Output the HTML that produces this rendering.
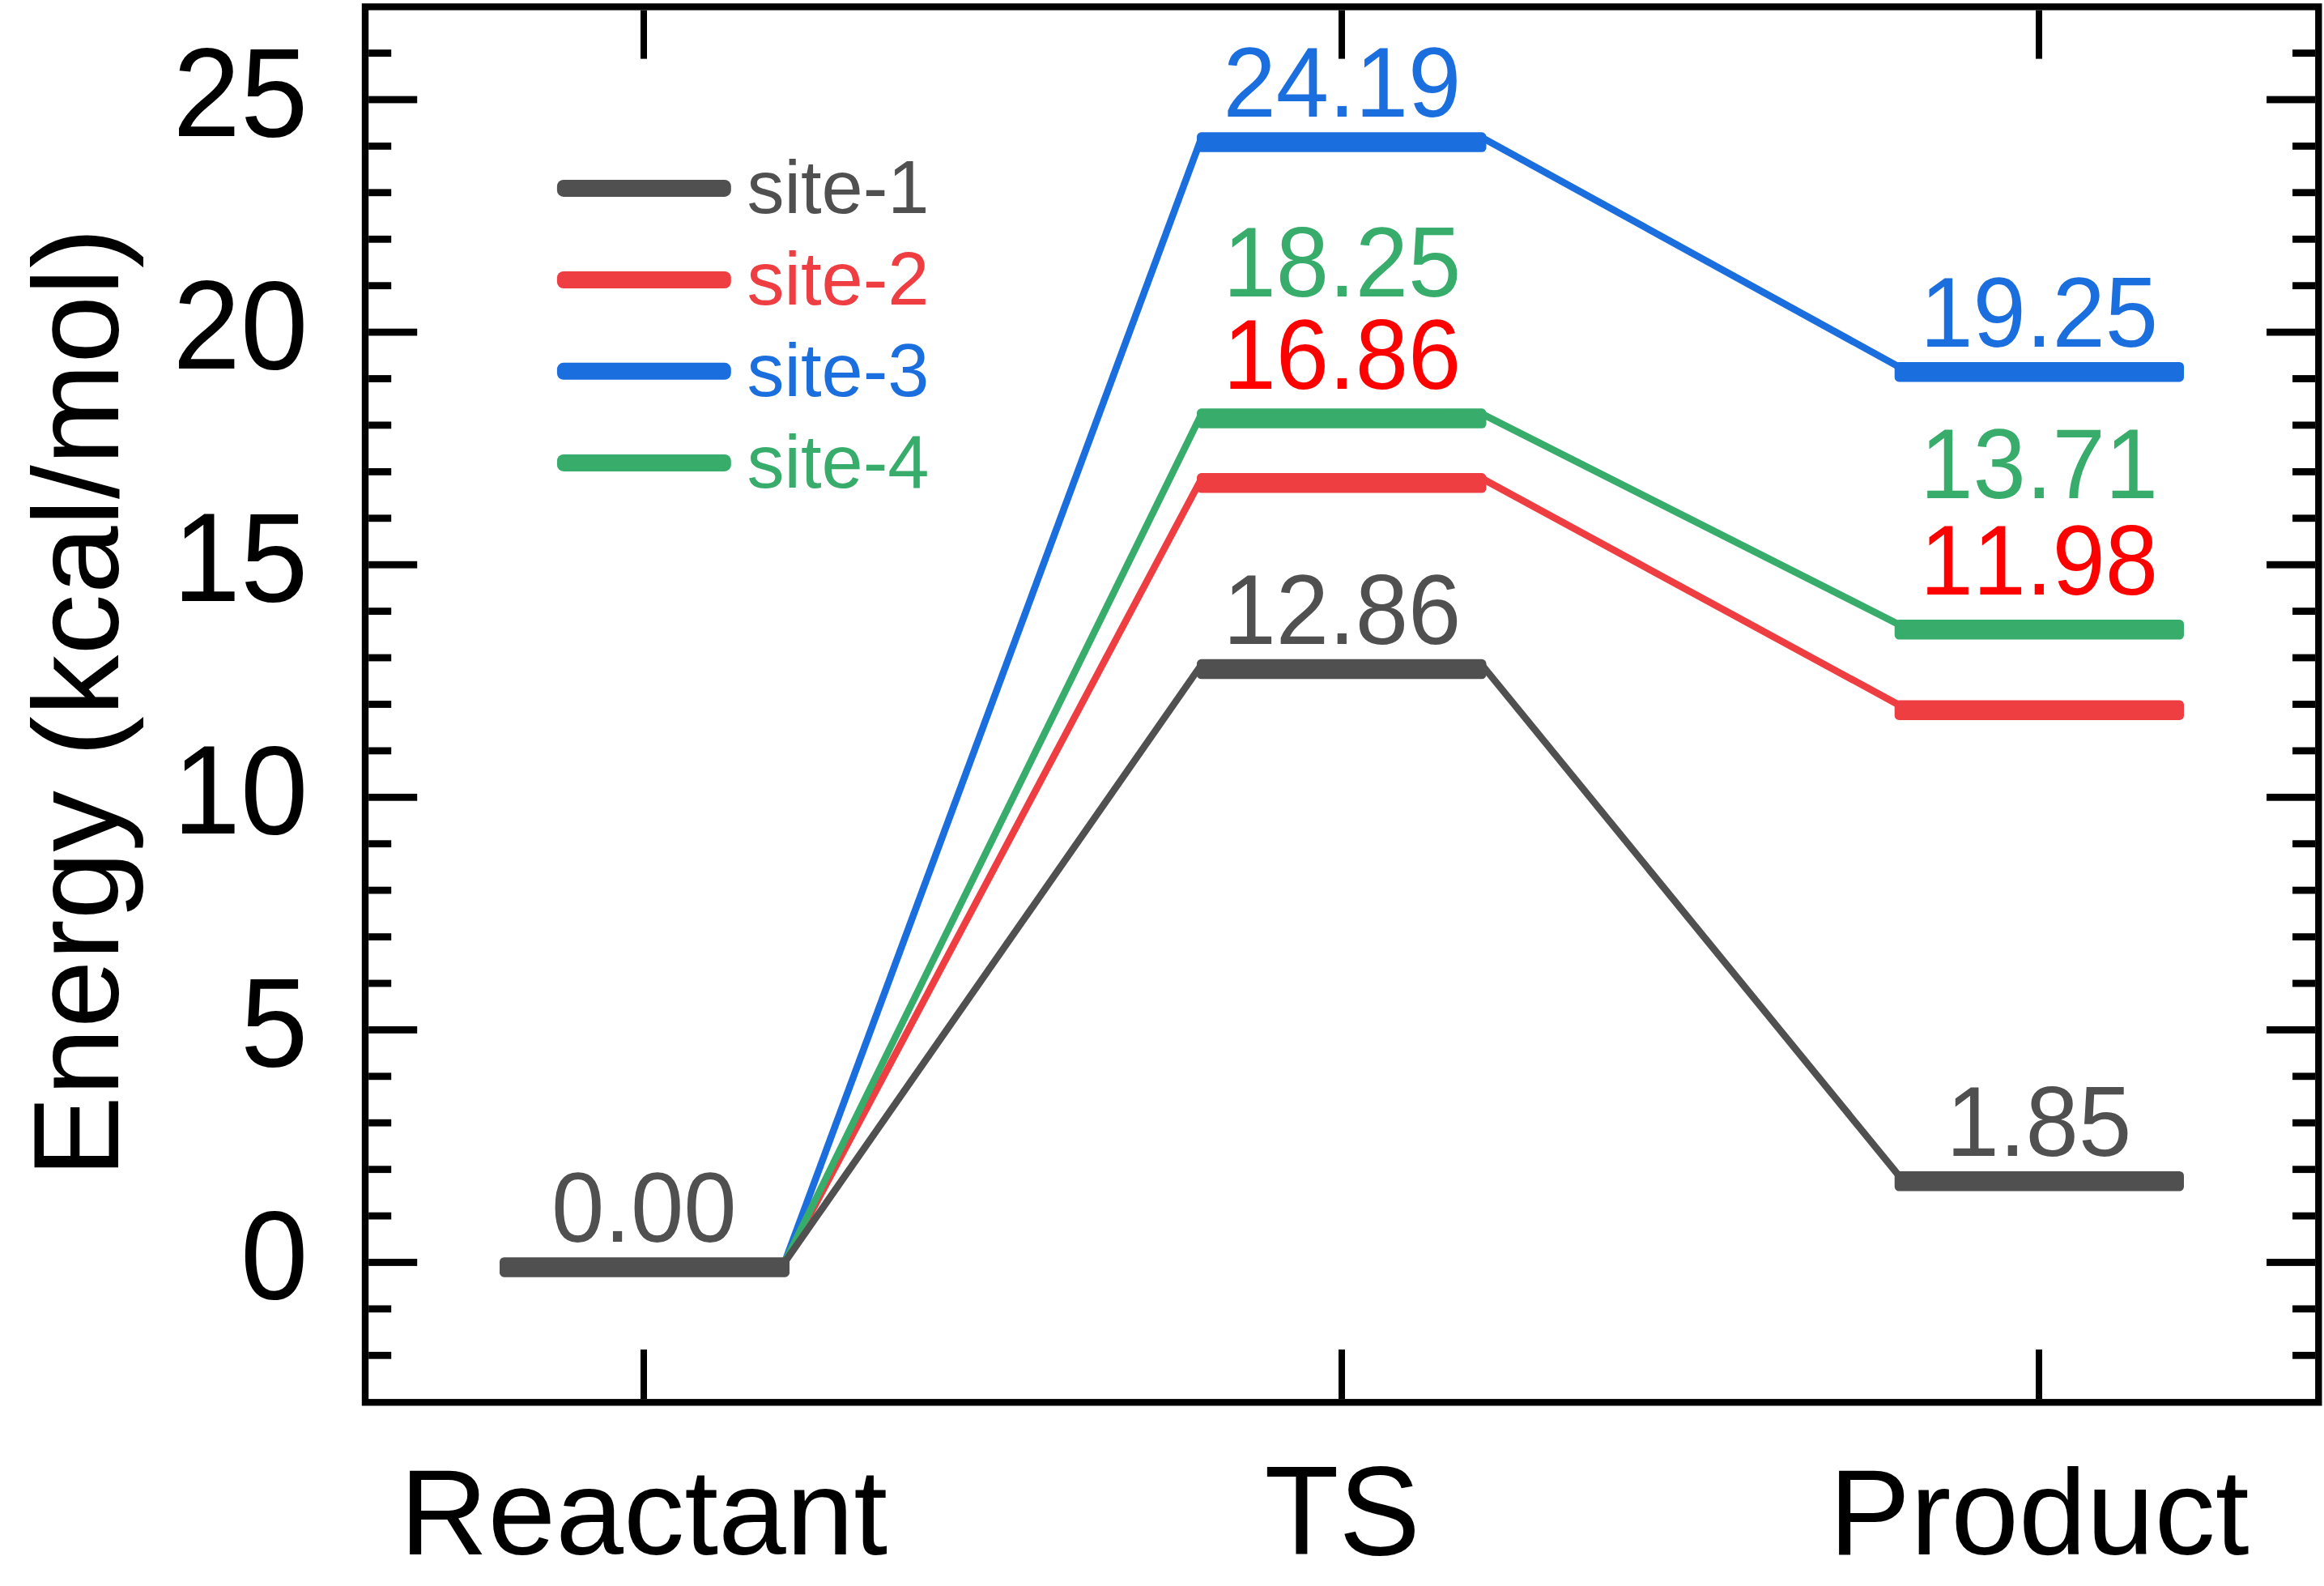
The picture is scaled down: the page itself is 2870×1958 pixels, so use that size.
<!DOCTYPE html>
<html><head><meta charset="utf-8"><title>Energy profile</title>
<style>
html,body{margin:0;padding:0;background:#fff;}
body{width:2870px;height:1958px;overflow:hidden;}
svg{display:block;font-family:'Liberation Sans', Arial, sans-serif;font-kerning:none;}
</style></head>
<body>
<svg width="2870" height="1958" viewBox="0 0 2870 1958">
<rect width="2870" height="1958" fill="#fff"/>
<rect x="455.2" y="1668.9" width="28" height="8.8" fill="#000"/>
<rect x="2831.1" y="1668.9" width="28" height="8.8" fill="#000"/>
<rect x="455.2" y="1611.5" width="28" height="8.8" fill="#000"/>
<rect x="2831.1" y="1611.5" width="28" height="8.8" fill="#000"/>
<rect x="455.2" y="1554.1" width="60" height="8.8" fill="#000"/>
<rect x="2799.1" y="1554.1" width="60" height="8.8" fill="#000"/>
<rect x="455.2" y="1496.7" width="28" height="8.8" fill="#000"/>
<rect x="2831.1" y="1496.7" width="28" height="8.8" fill="#000"/>
<rect x="455.2" y="1439.3" width="28" height="8.8" fill="#000"/>
<rect x="2831.1" y="1439.3" width="28" height="8.8" fill="#000"/>
<rect x="455.2" y="1381.8" width="28" height="8.8" fill="#000"/>
<rect x="2831.1" y="1381.8" width="28" height="8.8" fill="#000"/>
<rect x="455.2" y="1324.4" width="28" height="8.8" fill="#000"/>
<rect x="2831.1" y="1324.4" width="28" height="8.8" fill="#000"/>
<rect x="455.2" y="1267.0" width="60" height="8.8" fill="#000"/>
<rect x="2799.1" y="1267.0" width="60" height="8.8" fill="#000"/>
<rect x="455.2" y="1209.6" width="28" height="8.8" fill="#000"/>
<rect x="2831.1" y="1209.6" width="28" height="8.8" fill="#000"/>
<rect x="455.2" y="1152.2" width="28" height="8.8" fill="#000"/>
<rect x="2831.1" y="1152.2" width="28" height="8.8" fill="#000"/>
<rect x="455.2" y="1094.7" width="28" height="8.8" fill="#000"/>
<rect x="2831.1" y="1094.7" width="28" height="8.8" fill="#000"/>
<rect x="455.2" y="1037.3" width="28" height="8.8" fill="#000"/>
<rect x="2831.1" y="1037.3" width="28" height="8.8" fill="#000"/>
<rect x="455.2" y="979.9" width="60" height="8.8" fill="#000"/>
<rect x="2799.1" y="979.9" width="60" height="8.8" fill="#000"/>
<rect x="455.2" y="922.5" width="28" height="8.8" fill="#000"/>
<rect x="2831.1" y="922.5" width="28" height="8.8" fill="#000"/>
<rect x="455.2" y="865.1" width="28" height="8.8" fill="#000"/>
<rect x="2831.1" y="865.1" width="28" height="8.8" fill="#000"/>
<rect x="455.2" y="807.6" width="28" height="8.8" fill="#000"/>
<rect x="2831.1" y="807.6" width="28" height="8.8" fill="#000"/>
<rect x="455.2" y="750.2" width="28" height="8.8" fill="#000"/>
<rect x="2831.1" y="750.2" width="28" height="8.8" fill="#000"/>
<rect x="455.2" y="692.8" width="60" height="8.8" fill="#000"/>
<rect x="2799.1" y="692.8" width="60" height="8.8" fill="#000"/>
<rect x="455.2" y="635.4" width="28" height="8.8" fill="#000"/>
<rect x="2831.1" y="635.4" width="28" height="8.8" fill="#000"/>
<rect x="455.2" y="578.0" width="28" height="8.8" fill="#000"/>
<rect x="2831.1" y="578.0" width="28" height="8.8" fill="#000"/>
<rect x="455.2" y="520.5" width="28" height="8.8" fill="#000"/>
<rect x="2831.1" y="520.5" width="28" height="8.8" fill="#000"/>
<rect x="455.2" y="463.1" width="28" height="8.8" fill="#000"/>
<rect x="2831.1" y="463.1" width="28" height="8.8" fill="#000"/>
<rect x="455.2" y="405.7" width="60" height="8.8" fill="#000"/>
<rect x="2799.1" y="405.7" width="60" height="8.8" fill="#000"/>
<rect x="455.2" y="348.3" width="28" height="8.8" fill="#000"/>
<rect x="2831.1" y="348.3" width="28" height="8.8" fill="#000"/>
<rect x="455.2" y="290.9" width="28" height="8.8" fill="#000"/>
<rect x="2831.1" y="290.9" width="28" height="8.8" fill="#000"/>
<rect x="455.2" y="233.4" width="28" height="8.8" fill="#000"/>
<rect x="2831.1" y="233.4" width="28" height="8.8" fill="#000"/>
<rect x="455.2" y="176.0" width="28" height="8.8" fill="#000"/>
<rect x="2831.1" y="176.0" width="28" height="8.8" fill="#000"/>
<rect x="455.2" y="118.6" width="60" height="8.8" fill="#000"/>
<rect x="2799.1" y="118.6" width="60" height="8.8" fill="#000"/>
<rect x="455.2" y="61.2" width="28" height="8.8" fill="#000"/>
<rect x="2831.1" y="61.2" width="28" height="8.8" fill="#000"/>
<rect x="791.0" y="12.6" width="8" height="60" fill="#000"/>
<rect x="791.0" y="1666.1" width="8" height="61" fill="#000"/>
<rect x="1653.0" y="12.6" width="8" height="60" fill="#000"/>
<rect x="1653.0" y="1666.1" width="8" height="61" fill="#000"/>
<rect x="2514.0" y="12.6" width="8" height="60" fill="#000"/>
<rect x="2514.0" y="1666.1" width="8" height="61" fill="#000"/>
<rect x="451.0" y="8.4" width="2412.3" height="1722.9" fill="none" stroke="#000" stroke-width="8.4"/>
<g transform="translate(380.4,1603.0) scale(1,1.041)"><text x="0" y="0" font-size="150" fill="#000" text-anchor="end">0</text></g>
<g transform="translate(380.4,1315.9) scale(1,1.041)"><text x="0" y="0" font-size="150" fill="#000" text-anchor="end">5</text></g>
<g transform="translate(380.4,1028.8) scale(1,1.041)"><text x="0" y="0" font-size="150" fill="#000" text-anchor="end">10</text></g>
<g transform="translate(380.4,741.7) scale(1,1.041)"><text x="0" y="0" font-size="150" fill="#000" text-anchor="end">15</text></g>
<g transform="translate(380.4,454.6) scale(1,1.041)"><text x="0" y="0" font-size="150" fill="#000" text-anchor="end">20</text></g>
<g transform="translate(380.4,167.5) scale(1,1.041)"><text x="0" y="0" font-size="150" fill="#000" text-anchor="end">25</text></g>
<g transform="translate(145.8,1453.5) rotate(-90) scale(1,1.0)"><text x="0" y="0" font-size="150.7" fill="#000" text-anchor="start">Energy (kcal/mol)</text></g>
<g transform="translate(493.8,1919.3) scale(1,1.0)"><text x="0" y="0" font-size="150.5" fill="#000" text-anchor="start">Reactant</text></g>
<g transform="translate(1561.5,1919.3) scale(1,1.041)"><text x="0" y="0" font-size="150.5" fill="#000" text-anchor="start">TS</text></g>
<g transform="translate(2258.8,1919.3) scale(1,1.0)"><text x="0" y="0" font-size="150.5" fill="#000" text-anchor="start">Product</text></g>
<line x1="969.0" y1="1558.5" x2="1484.0" y2="590.4" stroke="#EE3E42" stroke-width="8.6"/>
<line x1="1829.5" y1="590.4" x2="2345.7" y2="870.6" stroke="#EE3E42" stroke-width="8.6"/>
<line x1="969.0" y1="1558.5" x2="1484.0" y2="169.5" stroke="#1B6EDE" stroke-width="8.6"/>
<line x1="1829.5" y1="169.5" x2="2345.7" y2="453.2" stroke="#1B6EDE" stroke-width="8.6"/>
<line x1="969.0" y1="1558.5" x2="1484.0" y2="510.6" stroke="#37AC6B" stroke-width="8.6"/>
<line x1="1829.5" y1="510.6" x2="2345.7" y2="771.3" stroke="#37AC6B" stroke-width="8.6"/>
<line x1="969.0" y1="1558.5" x2="1484.0" y2="820.1" stroke="#505050" stroke-width="8.6"/>
<line x1="1829.5" y1="820.1" x2="2345.7" y2="1452.3" stroke="#505050" stroke-width="8.6"/>
<rect x="1478.0" y="584.1" width="357.5" height="24.5" rx="5.5" fill="#EE3E42"/>
<rect x="2339.7" y="864.4" width="357.3" height="24.5" rx="5.5" fill="#EE3E42"/>
<rect x="1478.0" y="163.3" width="357.5" height="24.5" rx="5.5" fill="#1B6EDE"/>
<rect x="2339.7" y="446.9" width="357.3" height="24.5" rx="5.5" fill="#1B6EDE"/>
<rect x="1478.0" y="504.3" width="357.5" height="24.5" rx="5.5" fill="#37AC6B"/>
<rect x="2339.7" y="765.0" width="357.3" height="24.5" rx="5.5" fill="#37AC6B"/>
<rect x="617.0" y="1552.2" width="358.0" height="24.5" rx="5.5" fill="#505050"/>
<rect x="1478.0" y="813.8" width="357.5" height="24.5" rx="5.5" fill="#505050"/>
<rect x="2339.7" y="1446.0" width="357.3" height="24.5" rx="5.5" fill="#505050"/>
<g transform="translate(681.0,1532.5) scale(1,1.041)"><text x="0" y="0" font-size="117.5" fill="#505050" text-anchor="start">0.00</text></g>
<g transform="translate(1510.4,143.6) scale(1,1.041)"><text x="0" y="0" font-size="117.5" fill="#1B6EDE" text-anchor="start">24.19</text></g>
<g transform="translate(1510.4,365.8) scale(1,1.041)"><text x="0" y="0" font-size="117.5" fill="#37AC6B" text-anchor="start">18.25</text></g>
<g transform="translate(1510.4,479.6) scale(1,1.041)"><text x="0" y="0" font-size="117.5" fill="#FF0000" text-anchor="start">16.86</text></g>
<g transform="translate(1510.4,795.0) scale(1,1.041)"><text x="0" y="0" font-size="117.5" fill="#505050" text-anchor="start">12.86</text></g>
<g transform="translate(2371.2,428.1) scale(1,1.041)"><text x="0" y="0" font-size="117.5" fill="#1B6EDE" text-anchor="start">19.25</text></g>
<g transform="translate(2371.2,615.1) scale(1,1.041)"><text x="0" y="0" font-size="117.5" fill="#37AC6B" text-anchor="start">13.71</text></g>
<g transform="translate(2371.2,734.3) scale(1,1.041)"><text x="0" y="0" font-size="117.5" fill="#FF0000" text-anchor="start">11.98</text></g>
<g transform="translate(2403.6,1427.2) scale(1,1.041)"><text x="0" y="0" font-size="117.5" fill="#505050" text-anchor="start">1.85</text></g>
<rect x="687.9" y="221.9" width="214.9" height="21" rx="8" fill="#505050"/>
<g transform="translate(922.5,262.8) scale(1,1.0)"><text x="0" y="0" font-size="92" fill="#505050" text-anchor="start">site-1</text></g>
<rect x="687.9" y="335.0" width="214.9" height="21" rx="8" fill="#EE3E42"/>
<g transform="translate(922.5,375.8) scale(1,1.0)"><text x="0" y="0" font-size="92" fill="#EE3E42" text-anchor="start">site-2</text></g>
<rect x="687.9" y="447.8" width="214.9" height="21" rx="8" fill="#1B6EDE"/>
<g transform="translate(922.5,488.6) scale(1,1.0)"><text x="0" y="0" font-size="92" fill="#1B6EDE" text-anchor="start">site-3</text></g>
<rect x="687.9" y="560.9" width="214.9" height="21" rx="8" fill="#37AC6B"/>
<g transform="translate(922.5,601.8) scale(1,1.0)"><text x="0" y="0" font-size="92" fill="#37AC6B" text-anchor="start">site-4</text></g>
</svg>
</body></html>
